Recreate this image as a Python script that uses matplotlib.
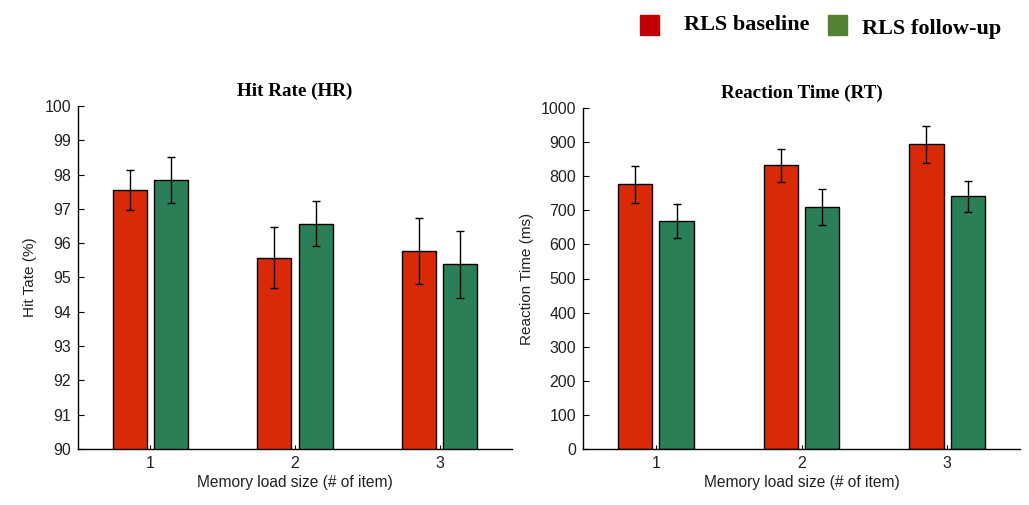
import matplotlib
matplotlib.use("Agg")
import matplotlib.pyplot as plt
import numpy as np
from matplotlib.patches import Rectangle

categories = [1, 2, 3]
series_names = ["RLS baseline", "RLS follow-up"]

hr_baseline = [97.55, 95.58, 95.77]
hr_baseline_err = [0.57, 0.88, 0.97]
hr_followup = [97.84, 96.57, 95.38]
hr_followup_err = [0.67, 0.65, 0.97]

rt_baseline = [776, 832, 893]
rt_baseline_err = [55, 48, 54]
rt_followup = [669, 710, 741]
rt_followup_err = [50, 52, 46]

hr_ticks = list(range(90, 101))
rt_ticks = list(range(0, 1001, 100))

bar_red = "#D92A08"
bar_green = "#2A7F56"
leg_red = "#C00000"
leg_green = "#548235"

sans = ["Liberation Sans", "DejaVu Sans"]
serif = ["Liberation Serif", "DejaVu Serif"]

fig = plt.figure(figsize=(10.29, 5.05), dpi=100)
ax1 = fig.add_axes([78/1029, 56/505, 434/1029, 343/505])
ax2 = fig.add_axes([583/1029, 56/505, 437/1029, 341/505])

w = 0.235
off = 0.142
x = np.array(categories, dtype=float)

def draw(ax, base, base_err, fol, fol_err, ylim, yticks, title, ylabel):
    ax.bar(x - off, base, w, yerr=base_err, color=bar_red, edgecolor="black",
           linewidth=1.0, capsize=3, error_kw=dict(elinewidth=1, capthick=1, ecolor="black"),
           zorder=2)
    ax.bar(x + off, fol, w, yerr=fol_err, color=bar_green, edgecolor="black",
           linewidth=1.0, capsize=3, error_kw=dict(elinewidth=1, capthick=1, ecolor="black"),
           zorder=2)
    ax.set_xlim(0.5, 3.5)
    ax.set_ylim(*ylim)
    ax.set_yticks(yticks)
    ax.set_xticks(categories)
    ax.set_xticklabels([str(c) for c in categories], fontfamily=sans, fontsize=11.5, color="#222222")
    ax.set_yticklabels([str(t) for t in yticks], fontfamily=sans, fontsize=11.5, color="#222222")
    ax.tick_params(direction="in", length=4, width=0.8, pad=5)
    ax.tick_params(axis="x", length=3)
    for s in ["top", "right"]:
        ax.spines[s].set_visible(False)
    for s in ["left", "bottom"]:
        ax.spines[s].set_linewidth(1.0)
    ax.set_title(title, fontfamily=serif, fontweight="bold", fontsize=13.8, pad=7)
    ax.set_ylabel(ylabel, fontfamily=sans, fontsize=11, labelpad=5, color="#222222")
    ax.set_xlabel("Memory load size (# of item)", fontfamily=sans, fontsize=11.2, labelpad=3,
                  color="#222222")

draw(ax1, hr_baseline, hr_baseline_err, hr_followup, hr_followup_err,
     (90, 100), hr_ticks, "Hit Rate (HR)", "Hit Tate (%)")
draw(ax2, rt_baseline, rt_baseline_err, rt_followup, rt_followup_err,
     (0, 1000), rt_ticks, "Reaction Time (RT)", "Reaction Time (ms)")

# legend
for (px, col, name, tx, ty) in [(640, leg_red, series_names[0], 684, 25),
                                (828, leg_green, series_names[1], 862, 29)]:
    fig.patches.append(Rectangle((px/1029, 1 - 35/505), 19/1029, 20/505,
                                 transform=fig.transFigure, color=col, figure=fig))
    fig.text(tx/1029, 1 - ty/505, name,
             fontfamily=serif, fontweight="bold", fontsize=16, va="center", ha="left")

fig.savefig("out.png", dpi=100)
